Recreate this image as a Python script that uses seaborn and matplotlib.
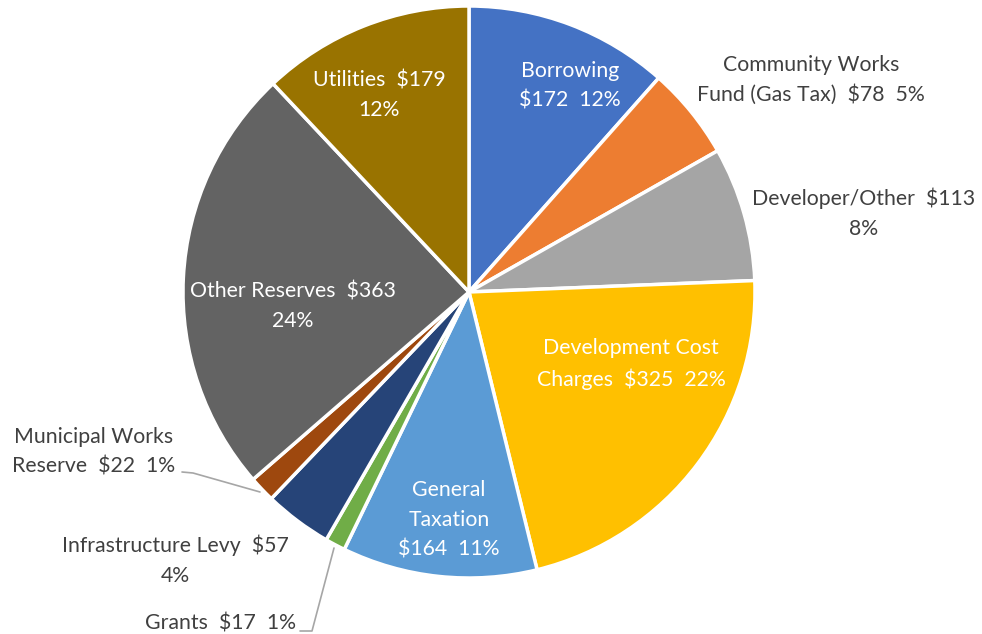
import matplotlib
matplotlib.use("Agg")
import matplotlib.pyplot as plt
import seaborn as sns

categories = ["Borrowing", "Community Works Fund (Gas Tax)", "Developer/Other",
              "Development Cost Charges", "General Taxation", "Grants",
              "Infrastructure Levy", "Municipal Works Reserve", "Other Reserves", "Utilities"]
values = [172, 78, 113, 325, 164, 17, 57, 22, 363, 179]
percents = [12, 5, 8, 22, 11, 1, 4, 1, 24, 12]
colors = ["#4472C4", "#ED7D31", "#A5A5A5", "#FFC000", "#5B9BD5", "#70AD47",
          "#264478", "#9E480E", "#636363", "#997300"]
label_texts = [
    "Borrowing\n$172  12%",
    "Community Works\nFund (Gas Tax)  $78  5%",
    "Developer/Other  $113\n8%",
    "Development Cost\nCharges  $325  22%",
    "General\nTaxation\n$164  11%",
    "Grants  $17  1%",
    "Infrastructure Levy  $57\n4%",
    "Municipal Works\nReserve  $22  1%",
    "Other Reserves  $363\n24%",
    "Utilities  $179\n12%",
]

sns.set_theme(style="white")
plt.rcParams["font.family"] = ["Lato", "DejaVu Sans"]

W, H = 982, 634
fig = plt.figure(figsize=(W / 100, H / 100), dpi=100)
ax = fig.add_axes([0, 0, 1, 1])

cx, cy, r = 469, H - 292, 286
ax.pie(values, colors=sns.color_palette(colors), startangle=90, counterclock=False,
       center=(cx, cy), radius=r,
       wedgeprops=dict(edgecolor="white", linewidth=2.5), frame=True)
ax.set_xlim(0, W)
ax.set_ylim(0, H)
ax.set_aspect("equal")
ax.axis("off")

# label positions (pixel coords, y from top), alignment, colour
pos = [
    (570, 86, "center", "white"),
    (811, 80, "center", "#404040"),
    (864, 213, "center", "#404040"),
    (631, 364, "center", "white"),
    (449, 520, "center", "white"),
    (296, 623, "right", "#404040"),
    (175, 560, "center", "#404040"),
    (94, 452, "center", "#404040"),
    (293, 306, "center", "white"),
    (379, 95, "center", "white"),
]
for txt, (x, y, ha, c) in zip(label_texts, pos):
    ax.text(x, H - y, txt, ha=ha, va="center", color=c, fontsize=15.3,
            linespacing=1.6, multialignment="center")

lc = "#A6A6A6"
ax.plot([182, 193, 260], [H - 472, H - 473, H - 492], color=lc, lw=1.2)
ax.plot([300, 312, 334], [H - 631, H - 631, H - 548], color=lc, lw=1.2)

fig.savefig("out.png", dpi=100)
